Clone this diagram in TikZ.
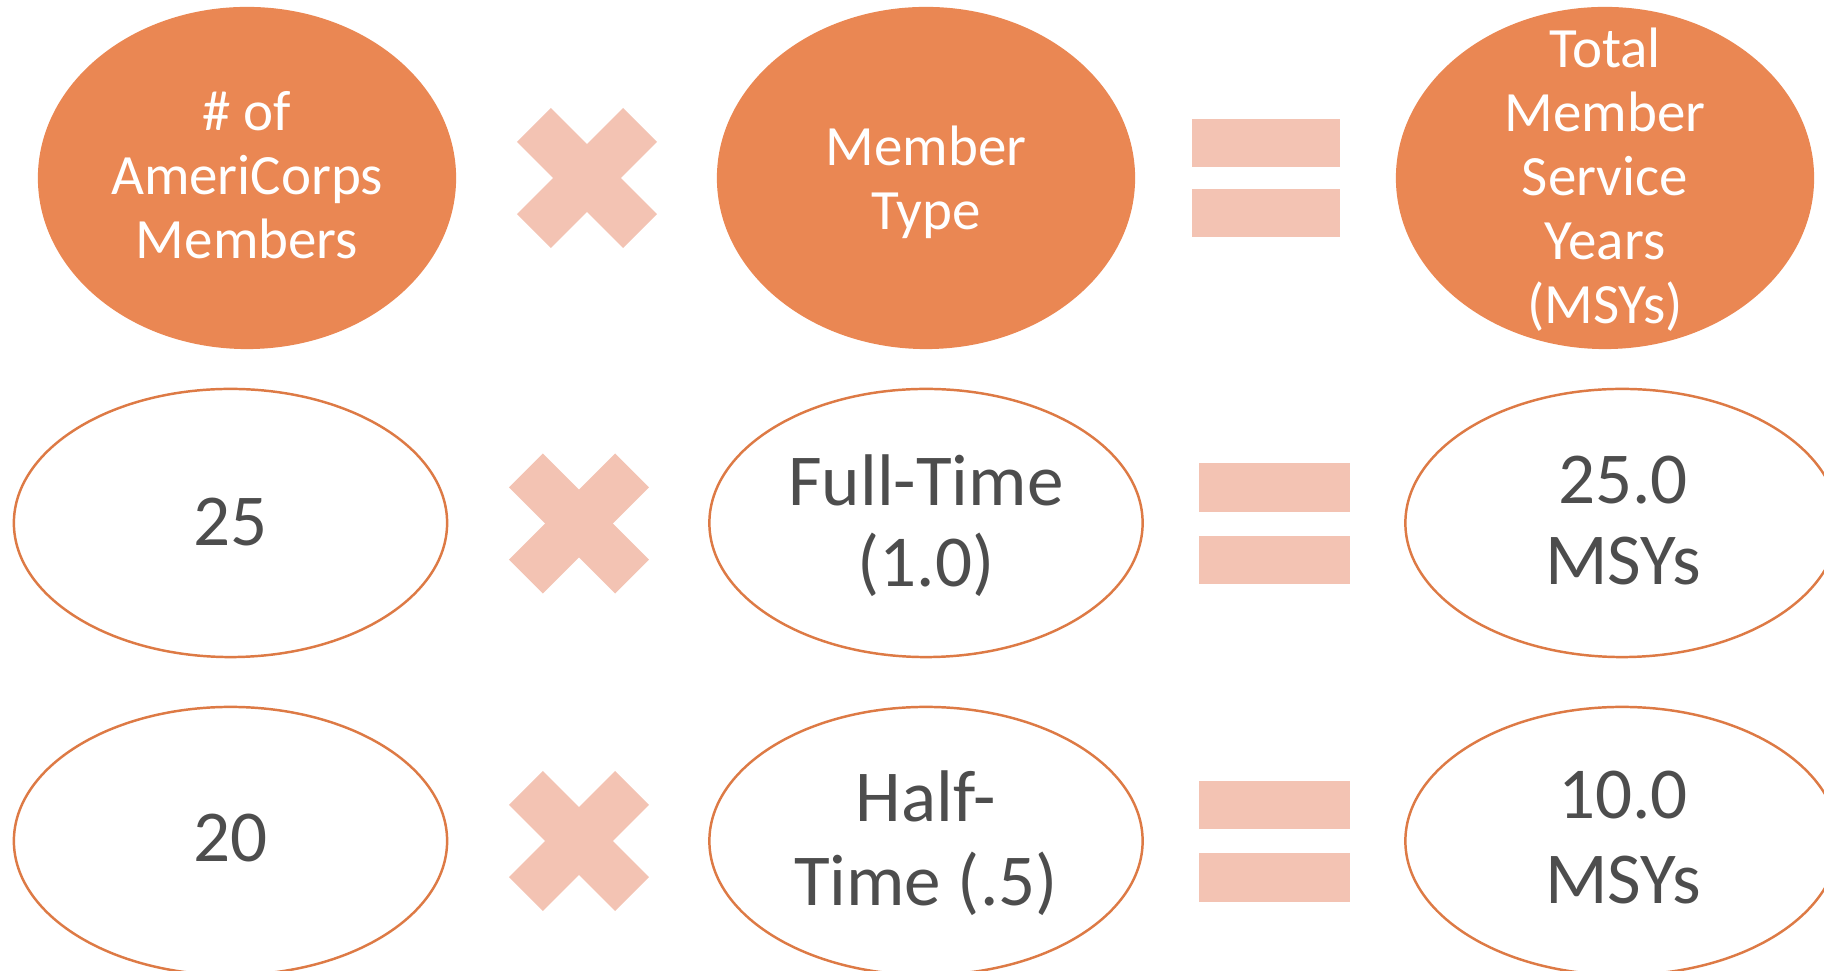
\documentclass[tikz,border=0pt]{standalone}
\usepackage{fontspec}
\setmainfont{Carlito}
\usetikzlibrary{shapes.geometric}
\definecolor{orangefill}{HTML}{EA8753}
\definecolor{crossfill}{HTML}{F3C3B3}
\definecolor{ringline}{HTML}{DD7A45}
\definecolor{darktext}{HTML}{4D4D4D}
\begin{document}
\begin{tikzpicture}[x=0.01cm,y=-0.01cm,
 topell/.style={ellipse, fill=orangefill, draw=none, minimum width=4.18cm, minimum height=3.42cm, inner sep=0pt},
 ringell/.style={ellipse, draw=ringline, line width=0.7pt, fill=white, minimum width=4.33cm, minimum height=2.68cm, inner sep=0pt},
 toptext/.style={text=white, align=center, inner sep=0pt, font=\fontsize{16.2}{18.2}\selectfont},
 ringtext/.style={text=darktext, align=center, inner sep=0pt, font=\fontsize{20.8}{23}\selectfont},
 ringtextb/.style={text=darktext, align=center, inner sep=0pt, font=\fontsize{20.8}{24}\selectfont},
 crossbar/.style={rectangle, fill=crossfill, draw=none, minimum width=1.5cm, minimum height=0.48cm, inner sep=0pt},
 eqbar/.style={rectangle, fill=crossfill, draw=none, inner sep=0pt, minimum height=0.48cm}]
\useasboundingbox (0,0) rectangle (1824,971);
\clip (0,0) rectangle (1824,971);
% row 1
\node[topell] (a1) at (247,178) {};
\node[topell] (b1) at (926,178) {};
\node[topell] (c1) at (1605,178) {};
\node[toptext] (ta1) at (247,175) {\# of\\AmeriCorps\\Members};
\node[toptext] (tb1) at (926,182) {Member\\Type};
\node[toptext] (tc1) at (1605,180) {Total\\Member\\Service\\Years\\(MSYs)};
\node[crossbar, rotate=45] (x1a) at (587,178) {};
\node[crossbar, rotate=-45] (x1b) at (587,178) {};
\node[eqbar, minimum width=1.48cm] (e1a) at (1266,143) {};
\node[eqbar, minimum width=1.48cm] (e1b) at (1266,213.5) {};
% row 2
\node[ringell] (a2) at (230.5,523) {};
\node[ringell] (b2) at (926,523) {};
\node[ringell] (c2) at (1622,523) {};
\node[ringtext] (ta2) at (230.5,522) {25};
\node[ringtext] (tb2) at (926,526) {Full-Time\\(1.0)};
\node[ringtext] (tc2) at (1623,520.5) {25.0\\MSYs};
\node[crossbar, rotate=45] (x2a) at (579,523.5) {};
\node[crossbar, rotate=-45] (x2b) at (579,523.5) {};
\node[eqbar, minimum width=1.51cm] (e2a) at (1274.5,487.5) {};
\node[eqbar, minimum width=1.51cm] (e2b) at (1274.5,560) {};
% row 3
\node[ringell] (a3) at (230.5,841) {};
\node[ringell] (b3) at (926,841) {};
\node[ringell] (c3) at (1622,841) {};
\node[ringtext] (ta3) at (230.5,838) {20};
\node[ringtextb] (tb3) at (926,843) {Half-\\Time (.5)};
\node[ringtextb] (tc3) at (1623,837.6) {10.0\\MSYs};
\node[crossbar, rotate=45] (x3a) at (579,841) {};
\node[crossbar, rotate=-45] (x3b) at (579,841) {};
\node[eqbar, minimum width=1.51cm] (e3a) at (1274.5,805) {};
\node[eqbar, minimum width=1.51cm] (e3b) at (1274.5,877.5) {};
\end{tikzpicture}
\end{document}
